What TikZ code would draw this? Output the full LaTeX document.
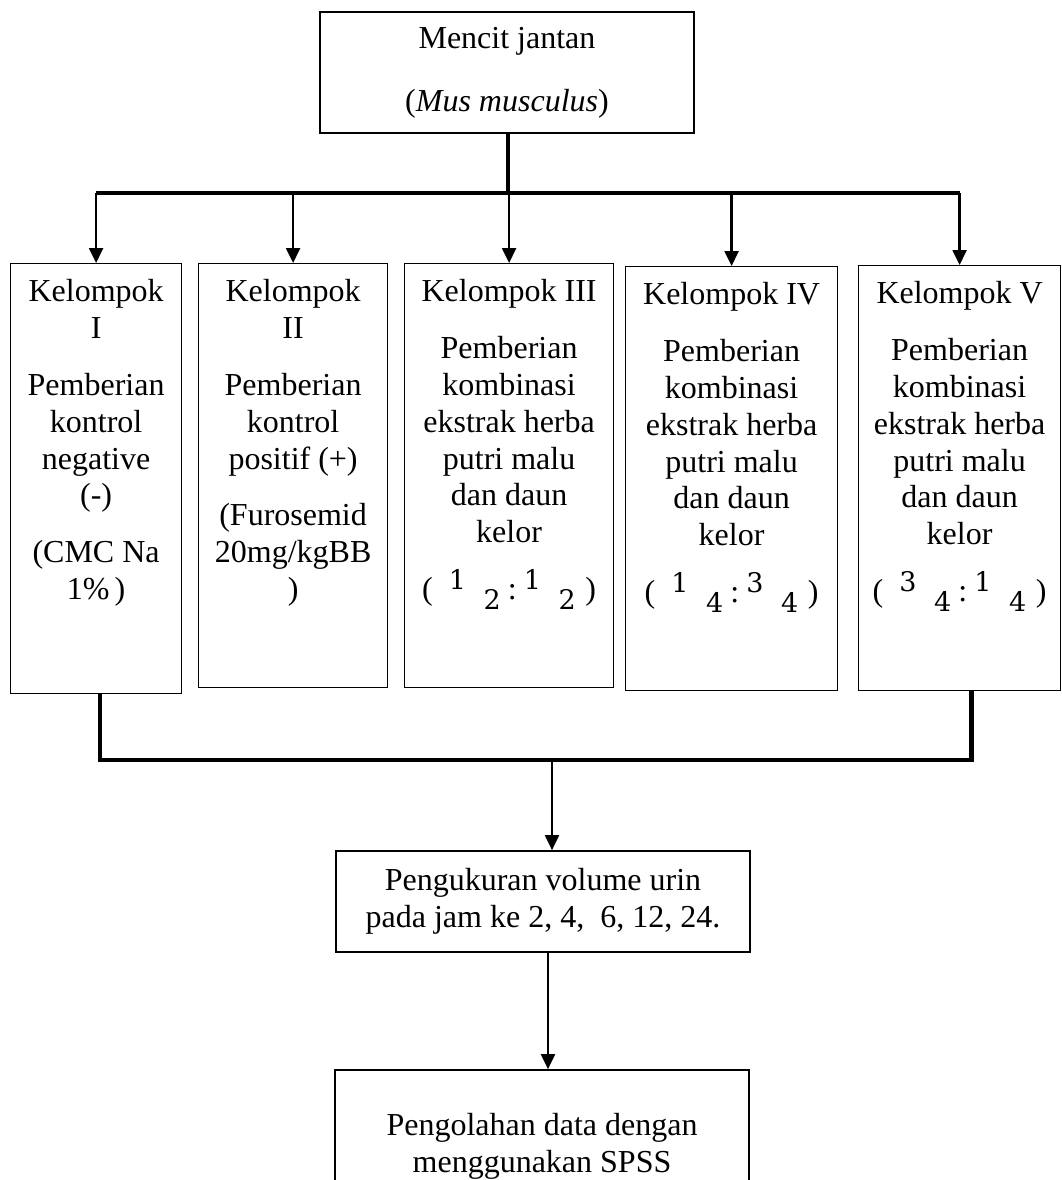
\documentclass[tikz,border=0pt]{standalone}
\usepackage{fontspec}
\setmainfont{Liberation Serif}
\newfontfamily\digf{DejaVu Serif}
\usetikzlibrary{arrows.meta,positioning}

\newcommand{\frc}[2]{\raisebox{0.32em}{\fontsize{13.5pt}{16pt}\digf #1}\hspace{0.55em}\raisebox{-0.3em}{\fontsize{13.5pt}{16pt}\digf #2}}
\newcommand{\ratio}[4]{(\hspace{0.5em}\frc{#1}{#2}\hspace{0.22em}:\hspace{0.22em}\frc{#3}{#4}\hspace{0.3em})}
\newcommand{\gtext}[3]{\begin{minipage}[t][#2][t]{#1}\centering\vspace*{8pt}#3\end{minipage}}

\begin{document}
\begin{tikzpicture}[x=0.5pt,y=-0.5pt,
font=\fontsize{16pt}{18.4pt}\selectfont,
box/.style={draw,line width=0.85pt,align=center,inner sep=0pt},
grp/.style={draw,line width=0.6pt,anchor=north west,inner sep=0pt},
arr/.style={-{Triangle[length=7.5pt,width=7pt]},line width=1.2pt},
rail/.style={line width=2.2pt}]
\useasboundingbox (0,0) rectangle (1062,1180);
\node[box,minimum width=187pt,minimum height=60.5pt](mencit) at (507,72.5){Mencit jantan\\[13pt](\textit{Mus musculus})};
\node[grp](g1) at (10,263){\gtext{85.5pt}{215pt}{Kelompok\\ I\\[10pt] Pemberian\\ kontrol\\ negative\\ (-)\\[10pt] (CMC Na\\ 1\%\,)}};
\node[grp](g2) at (198,263){\gtext{94.5pt}{212pt}{Kelompok\\ II\\[10pt] Pemberian\\ kontrol\\ positif (+)\\[10pt] (Furosemid\\ 20mg/kgBB\\ )}};
\node[grp](g3) at (404,263){\gtext{104.5pt}{212pt}{Kelompok III\\[10pt] Pemberian\\ kombinasi\\ ekstrak herba\\ putri malu\\ dan daun\\ kelor\\[10pt] \ratio1212}};
\node[grp](g4) at (625,266){\gtext{106pt}{212pt}{Kelompok IV\\[10pt] Pemberian\\ kombinasi\\ ekstrak herba\\ putri malu\\ dan daun\\ kelor\\[10pt] \ratio1434}};
\node[grp](g5) at (858,265){\gtext{101pt}{212.5pt}{Kelompok V\\[10pt] Pemberian\\ kombinasi\\ ekstrak herba\\ putri malu\\ dan daun\\ kelor\\[10pt] \ratio3414}};
\node[box,minimum width=207pt,minimum height=50.5pt](ukur) at (543,901.5){Pengukuran volume urin\\ pada jam ke 2, 4,~ 6, 12, 24.};
\node[box,minimum width=207pt,minimum height=76pt](olah) at (542,1146){Pengolahan data dengan\\ menggunakan SPSS};
\coordinate (split) at (508,193);
\coordinate (join) at (552,760);
\draw[line width=1.6pt](mencit.south -| split)--(split);
\draw[rail](g1.north |- split)--(g5.north |- split);
\foreach \g in {g1,g2,g3,g4,g5} \draw[arr](\g.north |- split)--(\g.north);
\draw[rail]([xshift=2pt]g1.south)|-(join)-|([xshift=6pt]g5.south);
\draw[arr,line width=1pt](join)--(join |- ukur.north);
\draw[arr,line width=1pt]([xshift=-2pt]ukur.south -| join)--([xshift=-2pt]olah.north -| join);
\end{tikzpicture}
\end{document}
